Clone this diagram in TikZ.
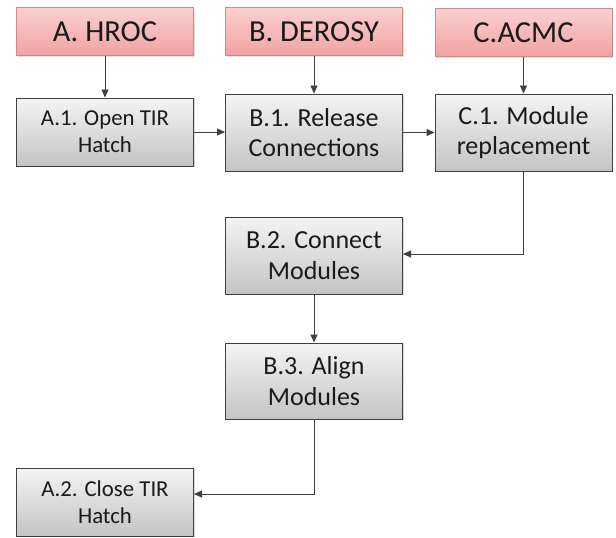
\documentclass[tikz,border=0pt]{standalone}
\usepackage{fontspec}
\setmainfont{Carlito}
\usetikzlibrary{arrows.meta,shadows}
\definecolor{redtop}{HTML}{FAD0D0}
\definecolor{redbot}{HTML}{F2A2A2}
\definecolor{redline}{HTML}{D08888}
\definecolor{graytop}{HTML}{F4F4F4}
\definecolor{graybot}{HTML}{C4C4C4}
\definecolor{grayline}{HTML}{404040}
\definecolor{linkcol}{HTML}{404040}
\definecolor{txt}{HTML}{1A1A1A}
\tikzset{
  actor/.style={draw=redline, line width=1pt, top color=redtop, bottom color=redbot,
    minimum width=177pt, minimum height=48pt, inner sep=0pt,
    font=\fontsize{30.5}{34}\selectfont, text=txt,
    drop shadow={shadow xshift=1.2pt, shadow yshift=-1.2pt, opacity=0.25}},
  task/.style={draw=grayline, line width=1pt, top color=graytop, bottom color=graybot,
    minimum width=177pt, minimum height=77pt, inner sep=0pt, align=center,
    font=\fontsize{26}{30.5}\selectfont, text=txt,
    drop shadow={shadow xshift=1.2pt, shadow yshift=-1.2pt, opacity=0.3}},
  tasksmall/.style={task, minimum height=68pt, font=\fontsize{22.8}{26.7}\selectfont},
  link/.style={draw=linkcol, line width=0.9pt, -{Triangle[length=8pt,width=7pt]}}
}
\begin{document}
\begin{tikzpicture}[x=1pt,y=-1pt]
\useasboundingbox (0,0) rectangle (616,538);
\node[actor] (hroc) at (105,31.5) {A. HROC};
\node[actor] (derosy) at (314,31.5) {B. DEROSY};
\node[actor] (acmc) at (523.5,32.5) {C.ACMC};
\node[tasksmall] (a1) at (105,132) {A.1. Open TIR\\Hatch};
\node[task] (b1) at (314,132.5) {B.1. Release\\Connections};
\node[task] (c1) at (523.5,132.5) {C.1. Module\\replacement};
\node[task] (b2) at (314,255.5) {B.2. Connect\\Modules};
\node[task, minimum height=76pt] (b3) at (314,381) {B.3. Align\\Modules};
\node[tasksmall] (a2) at (105,502) {A.2. Close TIR\\Hatch};
\draw[link] (hroc) -- (a1);
\draw[link] (derosy) -- (b1);
\draw[link] (acmc) -- (c1);
\draw[link] (a1) -- (b1.west |- a1.east);
\draw[link] (b1) -- (c1);
\draw[link] (c1.south) |- ([yshift=1.5pt]b2.east);
\draw[link] (b2) -- (b3);
\draw[link] (b3.south) |- ([yshift=8pt]a2.east);
\end{tikzpicture}
\end{document}
